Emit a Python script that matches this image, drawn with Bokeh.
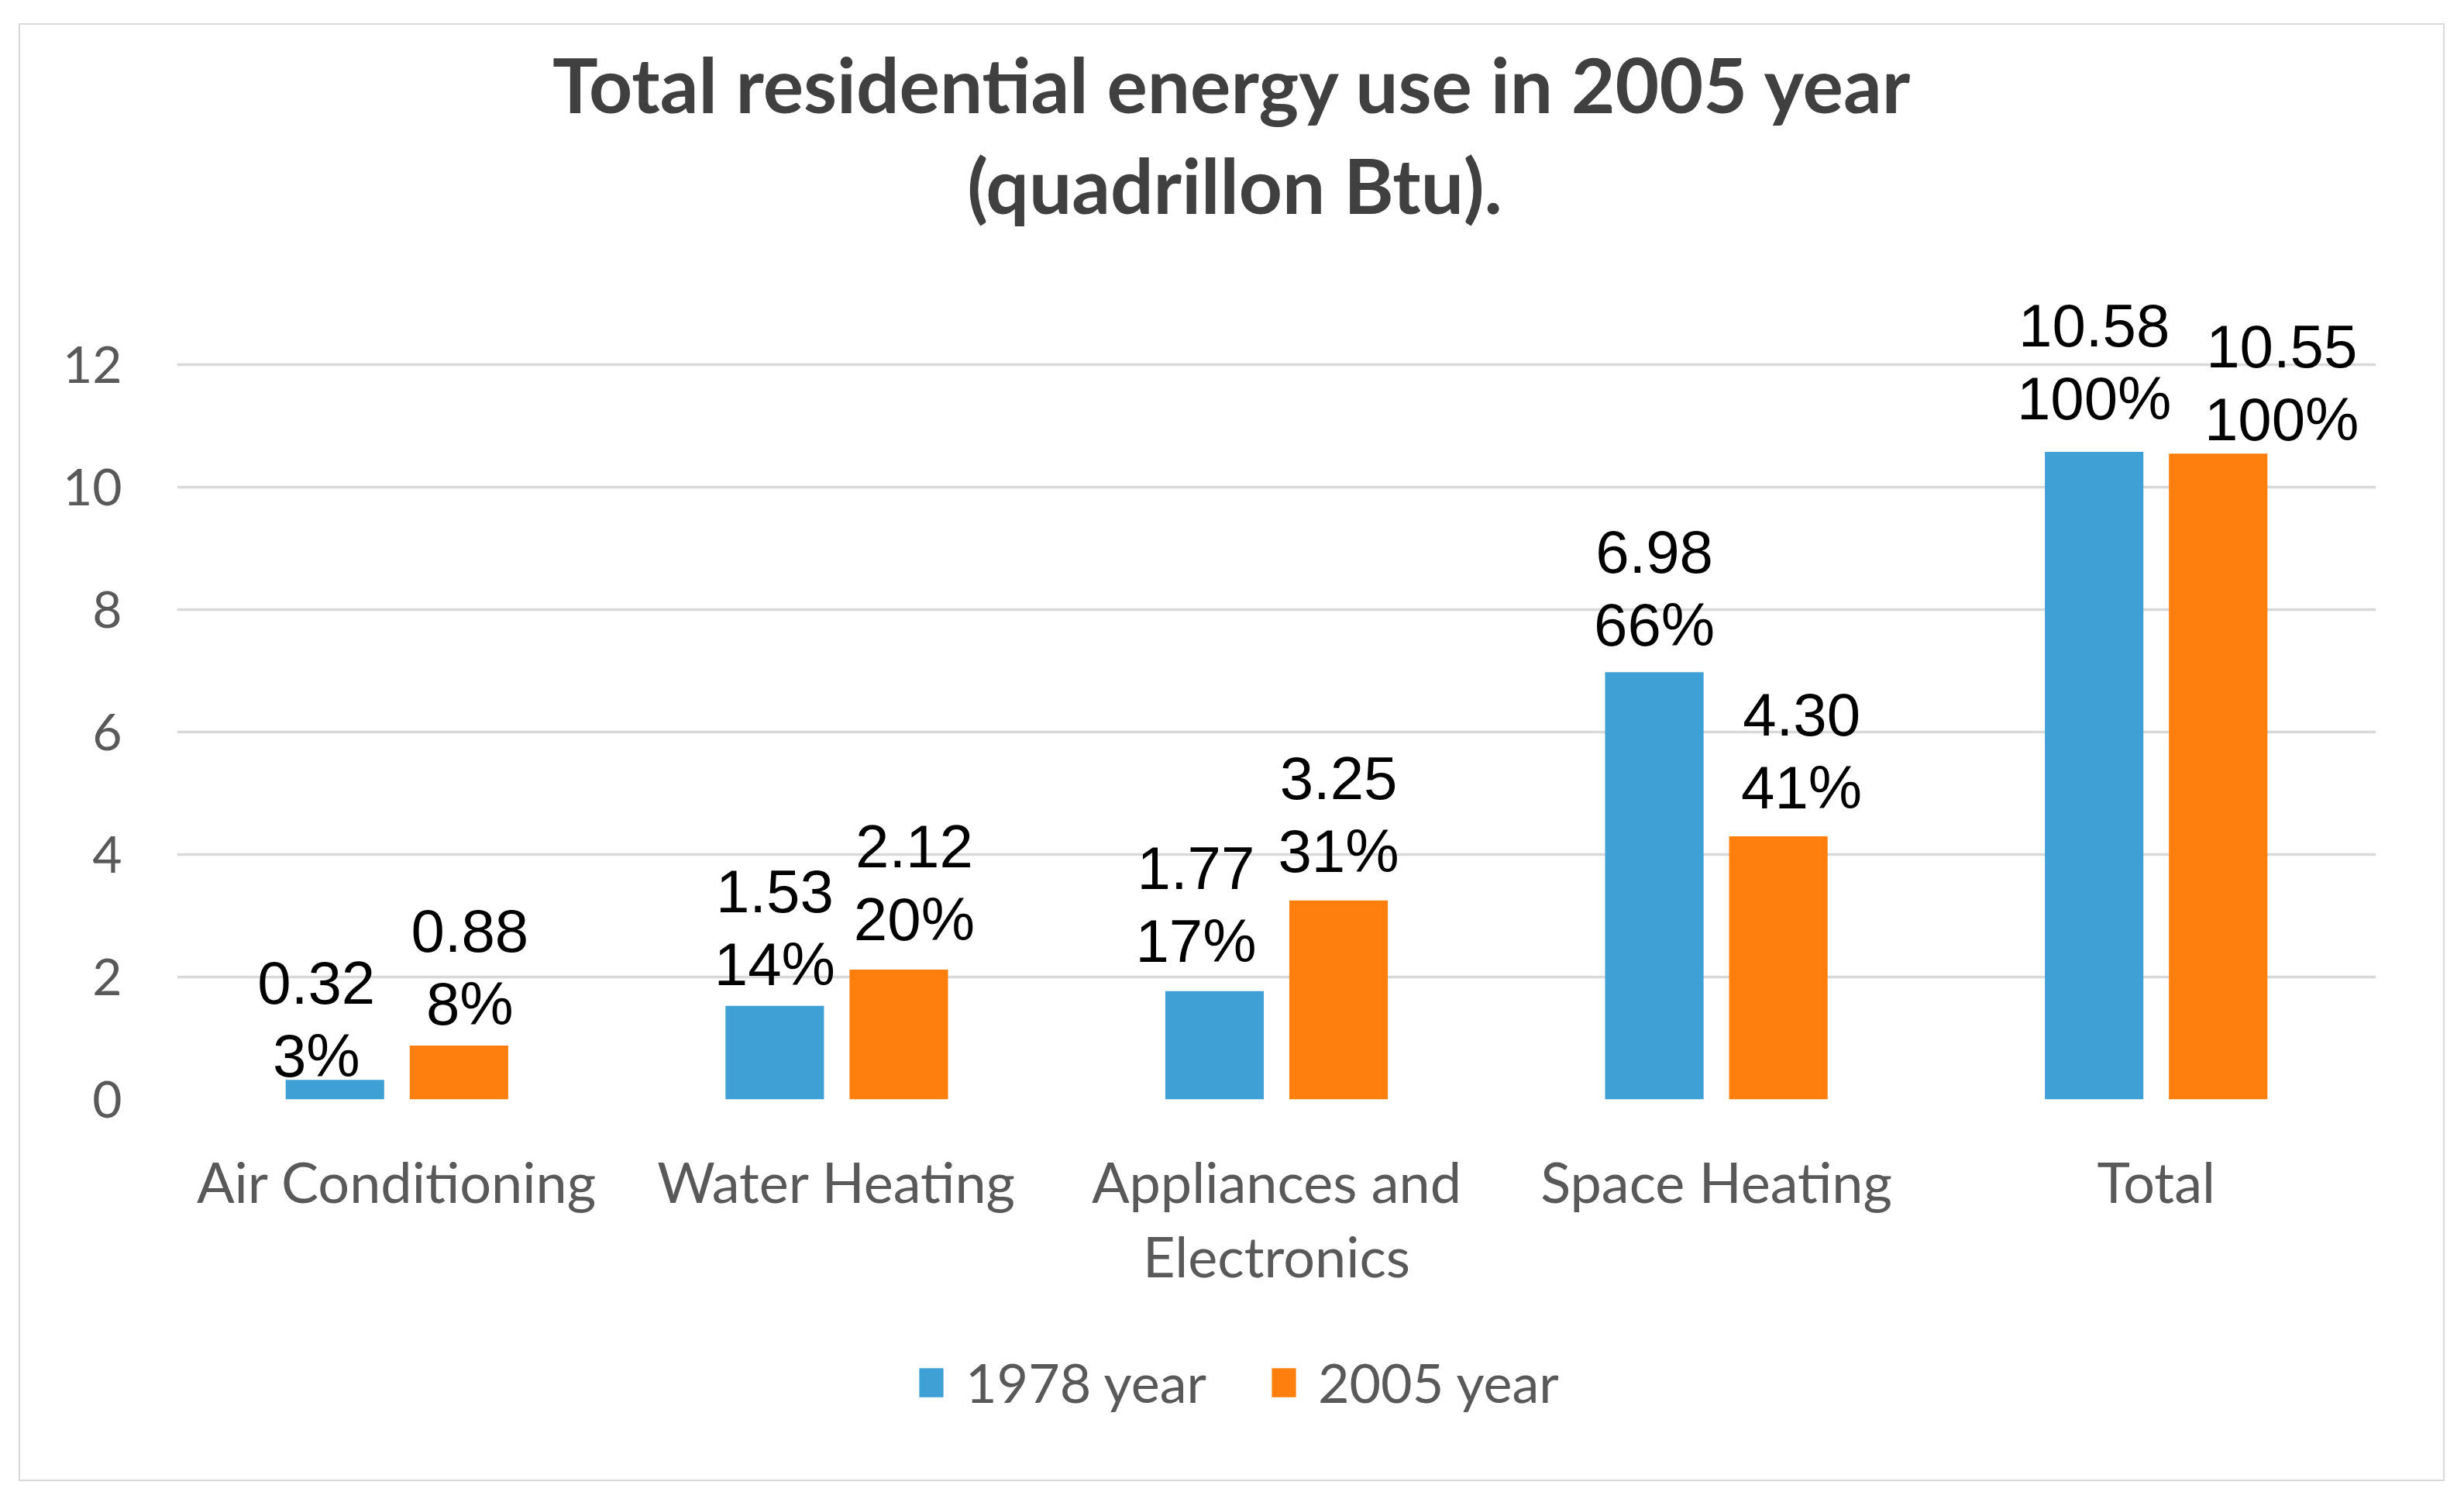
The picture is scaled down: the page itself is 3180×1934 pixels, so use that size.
from bokeh.plotting import figure
from bokeh.layouts import column
from bokeh.models import (FactorRange, FixedTicker, Legend, LegendItem,
                          ColumnDataSource, Range1d)
from bokeh.transform import dodge
from bokeh.core.properties import value
from bokeh.embed import file_html
from bokeh.resources import INLINE

# ---------------- data ----------------
categories = ["Air Conditioning", "Water Heating", "Appliances and\nElectronics",
              "Space Heating", "Total"]
use_1978 = [0.32, 1.53, 1.77, 6.98, 10.58]
use_2005 = [0.88, 2.12, 3.25, 4.30, 10.55]
share_1978 = ["3%", "14%", "17%", "66%", "100%"]
share_2005 = ["8%", "20%", "31%", "41%", "100%"]
y_ticks = [0, 2, 4, 6, 8, 10, 12]
series_names = ["1978 year", "2005 year"]
title_lines = ["Total residential energy use in 2005 year", "(quadrillon Btu)."]

# label nudges (px) as placed in the original chart
label_dx_1978 = [-24, 0, -24, 0, 0]
label_dx_2005 = [14, 20, 0, 30, 82]
label_gap_1978 = [7, 30, 41, 37, 45]
label_gap_2005 = [30, 41, 40, 39, 20]

BLUE = "#3FA0D5"
ORANGE = "#FF7F0E"
GRAY_TEXT = "#595959"
GRID = "#D9D9D9"
LINE_GAP = 94
BASE_FIX = 24          # svg baseline compensation (px)

W = 3127
H_TITLE, H_MAIN, H_LEG = 278, 1390, 209
FRAME_L, FRAME_R = 202, 87


def clean(fig):
    fig.outline_line_color = None
    fig.background_fill_color = "white"
    fig.border_fill_color = "white"
    fig.xgrid.grid_line_color = None
    fig.ygrid.grid_line_color = None


# ---------------- title ----------------
pt = figure(width=W, height=H_TITLE, x_range=Range1d(FRAME_L, W - FRAME_R),
            y_range=Range1d(H_TITLE, 0), x_axis_type=None, y_axis_type=None,
            title=None, min_border=0, min_border_left=FRAME_L,
            min_border_right=FRAME_R, min_border_top=0, min_border_bottom=0,
            output_backend="svg", toolbar_location=None)
clean(pt)
pt.text(x=[1565, 1567], y=[75, 205], text=title_lines,
        text_align="center", text_baseline="alphabetic",
        text_font=value("Lato"), text_font_style="bold",
        text_font_size="98px", text_color="#404040")

# ---------------- main chart ----------------
src = ColumnDataSource(dict(
    cat=categories,
    v78=use_1978, v05=use_2005,
    t78=[f"{v:.2f}" for v in use_1978], t05=[f"{v:.2f}" for v in use_2005],
    p78=share_1978, p05=share_2005,
    dx78=label_dx_1978, dx05=label_dx_2005,
    po78=[-(g + BASE_FIX) for g in label_gap_1978],
    po05=[-(g + BASE_FIX) for g in label_gap_2005],
    vo78=[-(g + BASE_FIX + LINE_GAP) for g in label_gap_1978],
    vo05=[-(g + BASE_FIX + LINE_GAP) for g in label_gap_2005],
))

p = figure(x_range=FactorRange(*categories), y_range=(0, 14.03), title=None,
           width=W, height=H_MAIN, output_backend="svg", toolbar_location=None,
           min_border_left=FRAME_L, min_border_right=FRAME_R,
           min_border_top=0, min_border_bottom=282)
p.x_range.range_padding = 0
clean(p)

p.xaxis.axis_line_color = None
p.xaxis.major_tick_line_color = None
p.xaxis.minor_tick_line_color = None
p.xaxis.major_label_text_font = "Lato"
p.xaxis.major_label_text_font_size = "72px"
p.xaxis.major_label_text_color = GRAY_TEXT
p.xaxis.major_label_standoff = 56
p.xaxis.major_label_text_line_height = 1.12

p.yaxis.ticker = FixedTicker(ticks=y_ticks)
p.yaxis.axis_line_color = None
p.yaxis.major_tick_line_color = None
p.yaxis.minor_tick_line_color = None
p.yaxis.major_label_text_font = "Lato"
p.yaxis.major_label_text_font_size = "66px"
p.yaxis.major_label_text_color = GRAY_TEXT
p.yaxis.major_label_standoff = 65

p.ygrid.grid_line_color = GRID
p.ygrid.grid_line_width = 3.5

off = 0.141
bw = 0.224
p.vbar(x=dodge("cat", -off, range=p.x_range), top="v78", width=bw,
       source=src, fill_color=BLUE, line_color=None)
p.vbar(x=dodge("cat", off, range=p.x_range), top="v05", width=bw,
       source=src, fill_color=ORANGE, line_color=None)

lab = dict(text_align="center", text_baseline="alphabetic",
           text_font=value("Liberation Sans"), text_font_size="78px",
           text_color="#000000", source=src)
p.text(x=dodge("cat", -off, range=p.x_range), y="v78", text="t78",
       x_offset="dx78", y_offset="vo78", **lab)
p.text(x=dodge("cat", -off, range=p.x_range), y="v78", text="p78",
       x_offset="dx78", y_offset="po78", **lab)
p.text(x=dodge("cat", off, range=p.x_range), y="v05", text="t05",
       x_offset="dx05", y_offset="vo05", **lab)
p.text(x=dodge("cat", off, range=p.x_range), y="v05", text="p05",
       x_offset="dx05", y_offset="po05", **lab)

# ---------------- legend ----------------
pl = figure(width=W, height=H_LEG, x_range=Range1d(0, 1), y_range=Range1d(0, 1),
            x_axis_type=None, y_axis_type=None, title=None,
            min_border=0, min_border_left=FRAME_L, min_border_right=FRAME_R,
            min_border_top=0, min_border_bottom=43,
            output_backend="svg", toolbar_location=None)
clean(pl)
# legend proxies (placed fully outside the visible range)
lr1 = pl.vbar(x=[-5], bottom=[-6], top=[-5], width=0.1,
              fill_color=BLUE, line_color=None)
lr2 = pl.vbar(x=[-5], bottom=[-6], top=[-5], width=0.1,
              fill_color=ORANGE, line_color=None)
legend = Legend(items=[LegendItem(label=series_names[0], renderers=[lr1]),
                       LegendItem(label=series_names[1], renderers=[lr2])],
                orientation="horizontal", location=(954, 41),
                label_text_font="Lato", label_text_font_size="70px",
                label_text_color=GRAY_TEXT, glyph_width=39, glyph_height=47,
                label_standoff=25, spacing=80, border_line_color=None,
                background_fill_alpha=0, margin=0, padding=10)
pl.add_layout(legend, "center")

layout = column(pt, p, pl, spacing=0, margin=(30, 0, 0, 24),
                styles={"border": "2px solid #D9D9D9"})

open("out.html", "w").write(file_html(layout, INLINE))
